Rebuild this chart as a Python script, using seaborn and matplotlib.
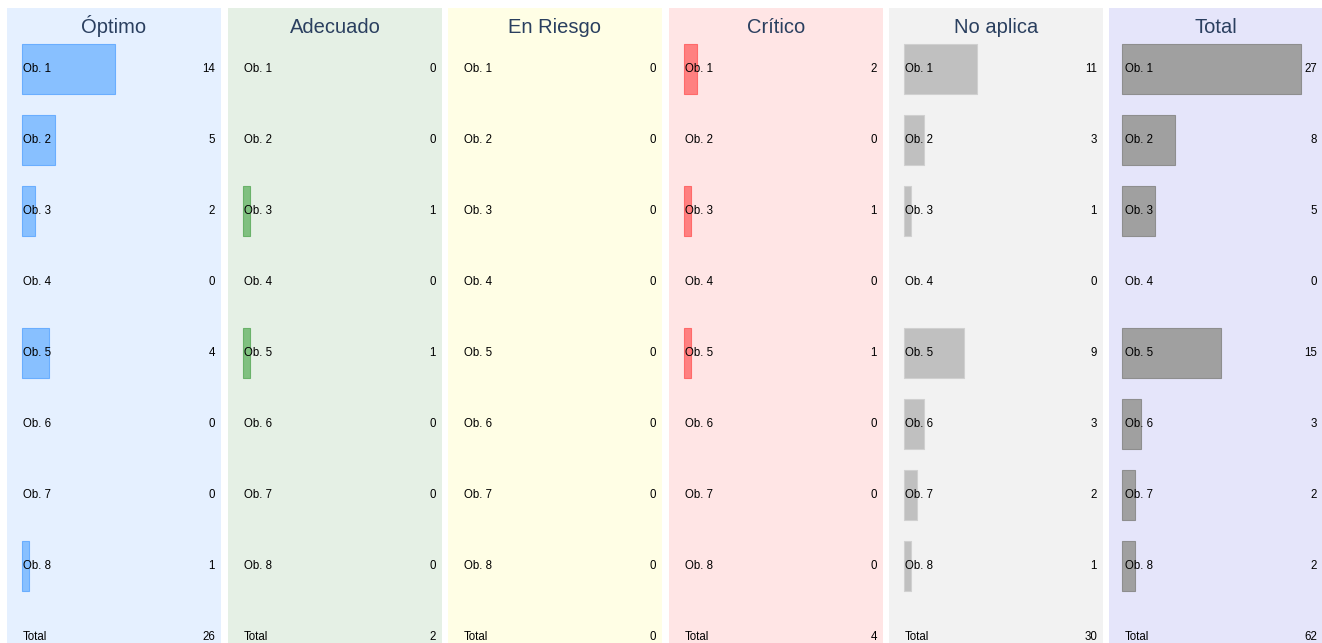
import pandas as pd
import seaborn as sns
import matplotlib.pyplot as plt

# categories and values
objetivos = ['Ob. 1', 'Ob. 2', 'Ob. 3', 'Ob. 4', 'Ob. 5', 'Ob. 6', 'Ob. 7', 'Ob. 8']
paneles = ['Óptimo', 'Adecuado', 'En Riesgo', 'Crítico', 'No aplica', 'Total']

optimo = [14, 5, 2, 0, 4, 0, 0, 1]
adecuado = [0, 0, 1, 0, 1, 0, 0, 0]
en_riesgo = [0, 0, 0, 0, 0, 0, 0, 0]
critico = [2, 0, 1, 0, 1, 0, 0, 0]
no_aplica = [11, 3, 1, 0, 9, 3, 2, 1]
total = [27, 8, 5, 0, 15, 3, 2, 2]

totales = [26, 2, 0, 4, 30, 62]

valores = [optimo, adecuado, en_riesgo, critico, no_aplica, total]

fondos = ['#e5f0ff', '#e5f0e5', '#fffee5', '#ffe5e5', '#f2f2f2', '#e5e5fa']
barras = ['#88c0ff', '#80c080', '#ffff80', '#ff8080', '#c0c0c0', '#a0a0a0']
bordes = ['#6aaeff', '#6ab26a', '#e0e060', '#ff6a6a', '#d0d0d0', '#8e8e8e']

sns.set_theme(style='white')
plt.rcParams['font.family'] = ['Liberation Sans', 'DejaVu Sans']

W, H = 1322, 643
fig = plt.figure(figsize=(W / 100, H / 100), dpi=100)

# panel positions in pixels
lefts = [7, 228, 448, 669, 889, 1109]
inicio = [15, 15, 15, 15, 15, 12.5]  # where the bars start inside each panel
pw = 214
top, bottom = 8, 643
escala = 6.66  # px per unit

for i, nombre in enumerate(paneles):
    ax = fig.add_axes([lefts[i] / W, 0, pw / W, (bottom - top) / H])
    ax.set_facecolor(fondos[i])
    df = pd.DataFrame({'objetivo': objetivos, 'valor': valores[i]})
    sns.barplot(data=df, y='objetivo', x='valor', orient='h', ax=ax,
                color=barras[i], width=0.7, saturation=1,
                edgecolor=bordes[i], linewidth=0.8)
    # no outline for empty bars
    for p in ax.patches:
        if p.get_width() == 0:
            p.set_visible(False)
    ax.set_xlim(-inicio[i] / escala, (pw - inicio[i]) / escala)
    ax.set_ylim(8.085, -0.859)
    for sp in ax.spines.values():
        sp.set_visible(False)
    ax.set_xticks([])
    ax.set_yticks([])
    ax.set_xlabel('')
    ax.set_ylabel('')

    filas = objetivos + ['Total']
    numeros = valores[i] + [totales[i]]
    x0 = 15.7 / pw
    for j, (lab, v) in enumerate(zip(filas, numeros)):
        ax.text(x0, j, lab, transform=ax.get_yaxis_transform(),
                ha='left', va='center', fontsize=8.3, color='black')
        ax.text(1 - 6 / pw, j, str(v), transform=ax.get_yaxis_transform(),
                ha='right', va='center', fontsize=8.3, color='black')

    ax.text(0.5, 1 - 25 / (bottom - top), nombre, transform=ax.transAxes,
            ha='center', va='baseline', fontsize=14.5, color='#2a3f5f')

fig.savefig('out.png', dpi=100)
